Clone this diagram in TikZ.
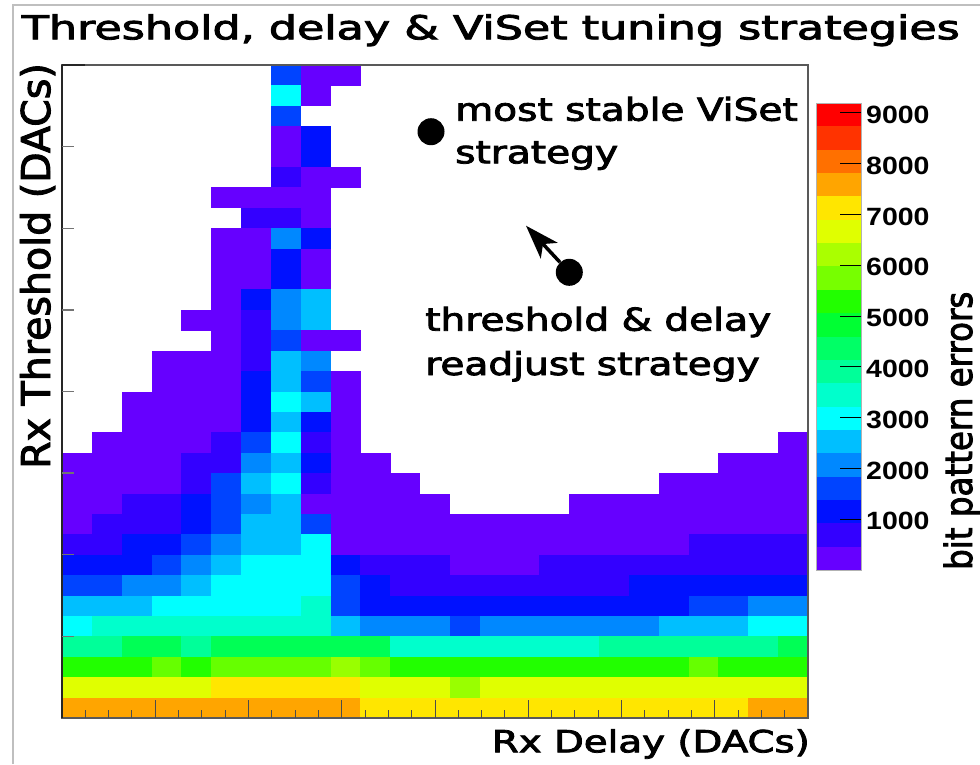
\documentclass[tikz,border=0pt]{standalone}
\usepackage{fontspec}
\usepackage{graphicx}
\setmainfont{DejaVu Sans}[FakeBold=2.5]
\newfontfamily\labelfont{Liberation Sans}
\usetikzlibrary{arrows.meta}

% palette of the heat map (one letter per colour)
\definecolor{heatv}{HTML}{6600FF}
\definecolor{heati}{HTML}{3300FF}
\definecolor{heatu}{HTML}{0011FF}
\definecolor{heatb}{HTML}{0044FF}
\definecolor{heats}{HTML}{0088FF}
\definecolor{heatk}{HTML}{00BFFF}
\definecolor{heatc}{HTML}{00FFFF}
\definecolor{heatq}{HTML}{00FFCC}
\definecolor{heatm}{HTML}{00FF99}
\definecolor{heatg}{HTML}{00FF55}
\definecolor{heath}{HTML}{22FF00}
\definecolor{heatl}{HTML}{66FF00}
\definecolor{heatp}{HTML}{99FF00}
\definecolor{heatz}{HTML}{E0FF00}
\definecolor{heaty}{HTML}{FFE600}
\definecolor{heato}{HTML}{FFA500}
% extra colour-scale bands
\definecolor{bandA}{HTML}{FF0000}
\definecolor{bandB}{HTML}{FF3300}
\definecolor{bandC}{HTML}{FF7000}
\definecolor{bandD}{HTML}{AAFF00}
\definecolor{bandE}{HTML}{77FF00}
\definecolor{bandF}{HTML}{00FF33}
\definecolor{bandG}{HTML}{00FF66}

% one row of cells: a string of colour letters, '.' = empty bin
\newcount\cellcol
\newcount\cellrow
\def\heatrow#1{\global\cellcol=0 \heatcell#1\relax\global\advance\cellrow by 1 }
\def\heatcell#1{%
  \ifx\relax#1%
  \else
    \ifx.#1\else
      \fill[heat#1] ({62+29.84*\the\cellcol},{65+20.406*\the\cellrow}) rectangle ++(30.2,20.8);%
    \fi
    \global\advance\cellcol by 1
    \expandafter\heatcell
  \fi}

\tikzset{
  txt/.style={inner sep=0pt},
  frameline/.style={draw=black!65, line width=1.3pt},
  dot/.style={circle, fill=black, inner sep=0pt, minimum size=27pt},
}

\begin{document}
\begin{tikzpicture}[x=1pt,y=-1pt]
\useasboundingbox (0,0) rectangle (980,764);

% outer page rule
\draw[black!25, line width=1.2pt] (13,764) -- (13,5) -- (980,5);

% heat map bins (25 x 32)
\global\cellrow=0
\heatrow{.......bvv...............}
\heatrow{.......cv................}
\heatrow{.......b.................}
\heatrow{.......vu................}
\heatrow{.......vu................}
\heatrow{.......ivv...............}
\heatrow{.....vvvv................}
\heatrow{......iiv................}
\heatrow{.....vvsu................}
\heatrow{.....vvuv................}
\heatrow{.....vvuv................}
\heatrow{.....vusk................}
\heatrow{....vvisk................}
\heatrow{.....vibvv...............}
\heatrow{...vvviks................}
\heatrow{...vvvukbv...............}
\heatrow{..vvvvuckv...............}
\heatrow{..vvvvukuv...............}
\heatrow{.vvvvibciv..............v}
\heatrow{vvvviiskuvv...........vvv}
\heatrow{vvvvibkcivvv........vvvvv}
\heatrow{vviiubskvvvvv....vvvvvvvv}
\heatrow{viiiubkkbvvvvvvvvvvvvvvvv}
\heatrow{iiuubskkcvvvvvvvvvvvviiii}
\heatrow{uuubskcccuiiivvviiiiiiiii}
\heatrow{bbsskccccbuiiiiiiiiuuuuuu}
\heatrow{kkkcccccqbuuuuuuuuuuubbss}
\heatrow{cqqqqqqqqksssbsssssskkkcc}
\heatrow{mmggmggggggqqqqqqqmmmmmmg}
\heatrow{hhhlhllllplhhhhhhhhhhlhhh}
\heatrow{zzzzzyyyyyzzzpzzzzzzzzzzz}
\heatrow{ooooooooooyyyyyyyyyyyyyoo}

% plot frame
\draw[frameline] (62,65) rectangle (808,718);
\draw[black!85, line width=1.3pt] (62,65) -- (62,718);
\draw[black!85, line width=1.3pt] (62,65) -- (85,65);

% y-axis ticks
\foreach \k in {1,...,7}
  \draw[black!55, line width=1.3pt] (62,{65+81.625*\k}) -- ++(12,0);

% x-axis ticks
\foreach \k in {1,...,31} {
  \pgfmathsetmacro\ticklen{mod(\k,4)==0 ? 18 : 8}
  \draw[black!70, line width=0.9pt] ({62+23.3125*\k},718) -- ++(0,-\ticklen);
}

% colour scale
\foreach \cb [count=\k from 0] in {bandA,bandB,bandC,heato,heaty,heatz,bandD,bandE,heath,bandF,
    bandG,heatm,heatq,heatc,heatk,heats,heatb,heatu,heati,heatv}
  \fill[\cb] (816,{103+23.35*\k}) rectangle (861,{103+23.35*(\k+1)+0.4});
\draw[black!30, line width=0.6pt] (816,103) rectangle (861,570);
\foreach \v in {1,...,9} {
  \draw[black, line width=0.8pt] (861,{570-50.8*\v}) -- ++(-21,0);
  \node[txt, anchor=west] (scale\v) at (866,{570-50.8*\v+2})
    {\scalebox{1.14}[1]{\labelfont\bfseries\fontsize{25}{28}\selectfont \v000}};
}

% titles and axis labels
\node[txt, anchor=base west] (title) at (21.7,39.3)
  {\scalebox{1.345}[1]{\fontsize{33}{36}\selectfont Threshold, delay \& ViSet tuning strategies}};
\node[txt, anchor=base east] (xlabel) at (810,752.3)
  {\scalebox{1.27}[1]{\fontsize{30.5}{34}\selectfont Rx Delay (DACs)}};
\node[txt, rotate=90, anchor=base east] (ylabel) at (50,63)
  {\fontsize{39.5}{42}\selectfont Rx Threshold (DACs)};
\node[txt, rotate=90, anchor=base west] (zlabel) at (972,570)
  {\scalebox{1}[1.15]{\fontsize{32.5}{36}\selectfont bit pattern errors}};

% strategy markers and notes
\node[dot] (dotA) at (431,131.7) {};
\node[dot] (dotB) at (569.3,272.3) {};
\coordinate (tipB) at (526,225.7);
\draw[line width=3.5pt, -{Stealth[length=34pt, width=23pt, inset=9pt]}] (dotB) -- (tipB);

\node[txt, anchor=base west] (noteA1) at (455,120.7)
  {\scalebox{1.24}[1]{\fontsize{31.5}{34}\selectfont most stable ViSet}};
\node[txt, anchor=base west] (noteA2) at (455,163.3)
  {\scalebox{1.24}[1]{\fontsize{31.5}{34}\selectfont strategy}};
\node[txt, anchor=base west] (noteB1) at (425,330.7)
  {\scalebox{1.24}[1]{\fontsize{31.5}{34}\selectfont threshold \& delay}};
\node[txt, anchor=base west] (noteB2) at (425,375)
  {\scalebox{1.24}[1]{\fontsize{31.5}{34}\selectfont readjust strategy}};
\end{tikzpicture}
\end{document}
